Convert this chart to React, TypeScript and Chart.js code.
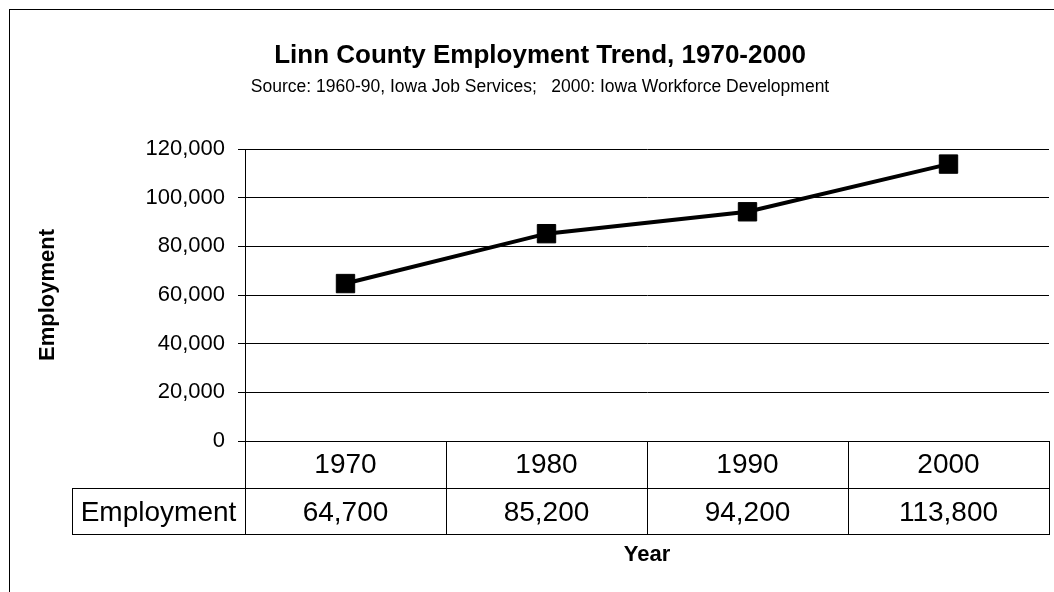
import React, { useEffect, useRef } from 'react';
import { Chart, registerables } from 'chart.js';

Chart.register(...registerables);

// ---- data ----
const years = ['1970', '1980', '1990', '2000'];
const employment = [64700, 85200, 94200, 113800];
const seriesName = 'Employment';
const yMin = 0;
const yMax = 120000;
const yStep = 20000;
const titleText = 'Linn County Employment Trend, 1970-2000';
const subtitleText = 'Source: 1960-90, Iowa Job Services;   2000: Iowa Workforce Development';
const yTitle = 'Employment';
const xTitle = 'Year';

const FONT = '"Liberation Sans", Arial, Helvetica, sans-serif';
const fmt = (v: number) => Number(v).toLocaleString('en-US');

const tablePlugin = {
  id: 'dataTable',
  afterDraw(chart: any) {
    const { ctx, chartArea } = chart;
    const { left, right, bottom, top } = chartArea;
    const labels = chart.data.labels as string[];
    const ds = chart.data.datasets[0];
    const data = ds.data as number[];
    const n = labels.length;
    const colW = (right - left) / n;
    const r1 = bottom;
    const r2 = bottom + 47;
    const r3 = bottom + 93;
    const labelLeft = 72;
    const a = (v: number) => Math.round(v) + 0.5;
    ctx.save();
    ctx.strokeStyle = '#000';
    ctx.lineWidth = 1;
    ctx.beginPath();
    ctx.moveTo(left, a(r1));
    ctx.lineTo(right + 1, a(r1));
    ctx.moveTo(labelLeft, a(r2));
    ctx.lineTo(right + 1, a(r2));
    ctx.moveTo(labelLeft, a(r3));
    ctx.lineTo(right + 1, a(r3));
    ctx.moveTo(a(labelLeft), a(r2));
    ctx.lineTo(a(labelLeft), a(r3));
    for (let i = 0; i <= n; i++) {
      const x = i === 0 ? a(left) : a(left + i * colW);
      ctx.moveTo(x, i === 0 ? a(top) : a(r1));
      ctx.lineTo(x, a(r3));
    }
    ctx.stroke();
    // outer chart border (right/bottom sides fall outside the picture)
    ctx.strokeRect(9.5, 9.5, chart.width + 20, chart.height + 20);

    ctx.fillStyle = '#000';
    ctx.font = `28px ${FONT}`;
    ctx.textAlign = 'center';
    ctx.textBaseline = 'middle';
    for (let i = 0; i < n; i++) {
      const cx = left + (i + 0.5) * colW;
      ctx.fillText(String(labels[i]), cx, (r1 + r2) / 2 + 0.5);
      ctx.fillText(fmt(data[i]), cx, (r2 + r3) / 2 + 2.5);
    }
    ctx.fillText(String(ds.label), (labelLeft + left) / 2, (r2 + r3) / 2 + 2.5);
    ctx.restore();
  },
};

export default function App() {
  const ref = useRef<HTMLCanvasElement>(null);
  useEffect(() => {
    const chart = new Chart(ref.current as HTMLCanvasElement, {
      type: 'line',
      data: {
        labels: years,
        datasets: [
          {
            label: seriesName,
            data: employment,
            borderColor: '#000',
            backgroundColor: '#000',
            borderWidth: 4,
            pointStyle: 'rect',
            pointRadius: 13,
            pointHoverRadius: 13,
            pointBackgroundColor: '#000',
            pointBorderColor: '#000',
            pointBorderWidth: 1,
            tension: 0,
            fill: false,
          },
        ],
      },
      options: {
        responsive: false,
        animation: false,
        devicePixelRatio: 1,
        events: [],
        layout: { padding: { left: 31, right: 31, top: 0, bottom: 0 } },
        plugins: {
          legend: { display: false },
          tooltip: { enabled: false },
          title: {
            display: true,
            text: titleText,
            color: '#000',
            font: { family: FONT, size: 26, weight: 'bold' },
            padding: { top: 40, bottom: 0 },
          },
          subtitle: {
            display: true,
            text: subtitleText,
            color: '#000',
            font: { family: FONT, size: 17.5 },
            padding: { top: 5.8, bottom: 51 },
          },
        },
        scales: {
          x: {
            type: 'category',
            offset: true,
            grid: { display: false },
            border: { display: false },
            ticks: { display: false },
            title: {
              display: true,
              text: xTitle,
              color: '#000',
              font: { family: FONT, size: 22, weight: 'bold' },
              padding: { top: 0, bottom: 23.8 },
            },
            afterFit: (s: any) => {
              s.height = 151;
            },
          },
          y: {
            min: yMin,
            max: yMax,
            ticks: {
              stepSize: yStep,
              color: '#000',
              font: { family: FONT, size: 22 },
              padding: 13,
              callback: (v: any) => fmt(v),
            },
            grid: { color: '#000', lineWidth: 1, tickLength: 7, drawTicks: true },
            border: { display: true, color: '#000', width: 1 },
            title: {
              display: true,
              text: yTitle,
              color: '#000',
              font: { family: FONT, size: 22, weight: 'bold' },
              padding: { top: 3.8, bottom: 0 },
            },
            afterFit: (s: any) => {
              s.width = 214;
            },
          },
        },
      } as any,
      plugins: [tablePlugin],
    });
    return () => chart.destroy();
  }, []);
  return (
    <div
      style={{
        position: 'fixed',
        left: 0,
        top: 0,
        width: 1054,
        height: 592,
        overflow: 'hidden',
        background: '#fff',
      }}
    >
      <canvas
        ref={ref}
        width={1080}
        height={592}
        style={{ display: 'block', width: 1080, height: 592 }}
      />
    </div>
  );
}
